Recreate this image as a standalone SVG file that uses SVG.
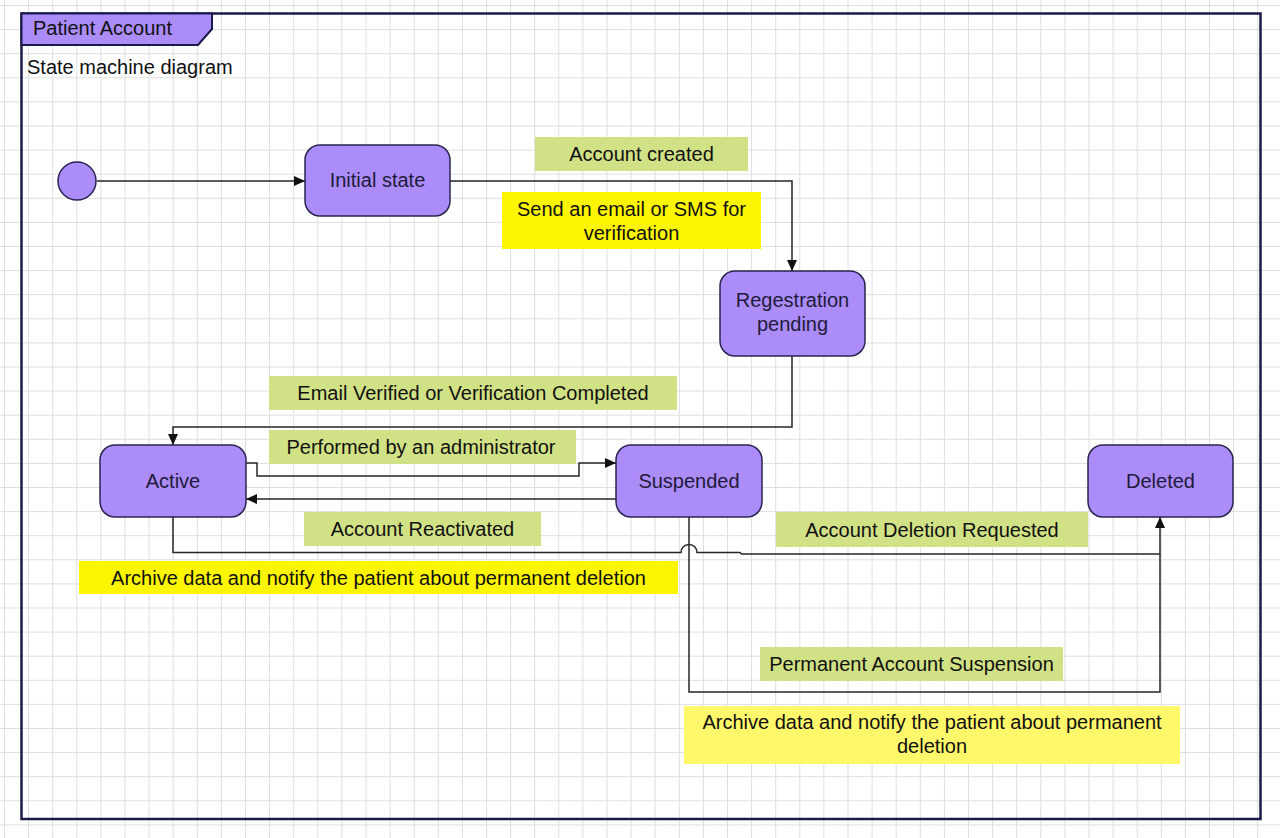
<svg xmlns="http://www.w3.org/2000/svg" width="1280" height="838" viewBox="0 0 1280 838">
<style>
text{font-family:"Liberation Sans",Arial,sans-serif;font-size:20px}
.node rect{fill:#ab8cf9;stroke:#2a2550;stroke-width:1.5}
.node text{fill:#1e1b3a;text-anchor:middle}
.lbl text{fill:#111;text-anchor:middle}
.g{fill:#d1e185}
.y{fill:#fef600}
.ly{fill:#fff86a}
#connectors path{fill:none;stroke:#262626;stroke-width:1.5}
</style>
<defs>
<pattern id="grid" patternUnits="userSpaceOnUse" x="4" y="5" width="24.1" height="24.1">
<path d="M0.5,0 V24.1 M0,0.5 H24.1" fill="none" stroke="#dedede" stroke-width="1"/>
</pattern>
<marker id="arr" markerUnits="userSpaceOnUse" markerWidth="12" markerHeight="10" refX="11" refY="5" orient="auto">
<path d="M0,0 L11,5 L0,10 Z" fill="#111"/>
</marker>
</defs>
<rect x="0" y="0" width="1280" height="838" fill="#ffffff"/>
<rect x="0" y="0" width="1280" height="838" fill="url(#grid)"/>

<g id="frame">
<rect x="21.5" y="13.5" width="1239" height="805.5" fill="none" stroke="#1b1b4b" stroke-width="2.5"/>
<path d="M21.5,13.5 H212 V29 L198,45 H21.5 Z" fill="#ab8cf9" stroke="#1b1b4b" stroke-width="2"/>
<text x="33" y="35" fill="#111">Patient Account</text>
<text x="27" y="74" fill="#111">State machine diagram</text>
</g>

<g id="connectors">
<path d="M97,181 H305" marker-end="url(#arr)"/>
<path d="M450,181 H792 V271" marker-end="url(#arr)"/>
<path d="M792,356 V427 H173 V445" marker-end="url(#arr)"/>
<path d="M246,463 H257 V476 H579 V463 H616" marker-end="url(#arr)"/>
<path d="M616,499 H246" marker-end="url(#arr)"/>
<path d="M689,517 V692 H1160 V554"/>
<path d="M173,517 V552.5 H681 A8,8 0 0 1 697,552.5 H740 L741.5,554 H1160 V517" marker-end="url(#arr)"/>
</g>

<g id="start" class="node"><circle cx="77" cy="181" r="19" fill="#ab8cf9" stroke="#2a2550" stroke-width="1.5"/></g>
<g id="initial" class="node"><rect x="305" y="145" width="145" height="71" rx="15"/><text x="377.5" y="187">Initial state</text></g>
<g id="registration" class="node"><rect x="720" y="271" width="145" height="85" rx="15"/><text x="792.5" y="307">Regestration</text><text x="792.5" y="331">pending</text></g>
<g id="active" class="node"><rect x="100" y="445" width="146" height="72" rx="15"/><text x="173" y="488">Active</text></g>
<g id="suspended" class="node"><rect x="616" y="445" width="146" height="72" rx="15"/><text x="689" y="488">Suspended</text></g>
<g id="deleted" class="node"><rect x="1088" y="445" width="145" height="72" rx="15"/><text x="1160.5" y="488">Deleted</text></g>

<g id="labels" class="lbl">
<g id="l-created"><rect class="g" x="535" y="137" width="213" height="34"/><text x="641.5" y="161">Account created</text></g>
<g id="l-send"><rect class="y" x="502" y="192" width="259" height="57"/><text x="631.5" y="216">Send an email or SMS for</text><text x="631.5" y="240">verification</text></g>
<g id="l-verified"><rect class="g" x="269" y="376" width="408" height="34"/><text x="473" y="400">Email Verified or Verification Completed</text></g>
<g id="l-admin"><rect class="g" x="269" y="430" width="307" height="34"/><text x="421" y="454">Performed by an administrator</text></g>
<g id="l-reactivated"><rect class="g" x="304" y="512" width="237" height="34"/><text x="422.5" y="536">Account Reactivated</text></g>
<g id="l-archive1"><rect class="y" x="79" y="561" width="599" height="33"/><text x="378.5" y="584.5">Archive data and notify the patient about permanent deletion</text></g>
<g id="l-delreq"><rect class="g" x="776" y="512" width="312" height="35"/><text x="932" y="536.5">Account Deletion Requested</text></g>
<g id="l-permsusp"><rect class="g" x="760" y="647" width="303" height="34"/><text x="911.5" y="671">Permanent Account Suspension</text></g>
<g id="l-archive2"><rect class="ly" x="684" y="706" width="496" height="58"/><text x="932" y="729">Archive data and notify the patient about permanent</text><text x="932" y="753">deletion</text></g>
</g>
</svg>
